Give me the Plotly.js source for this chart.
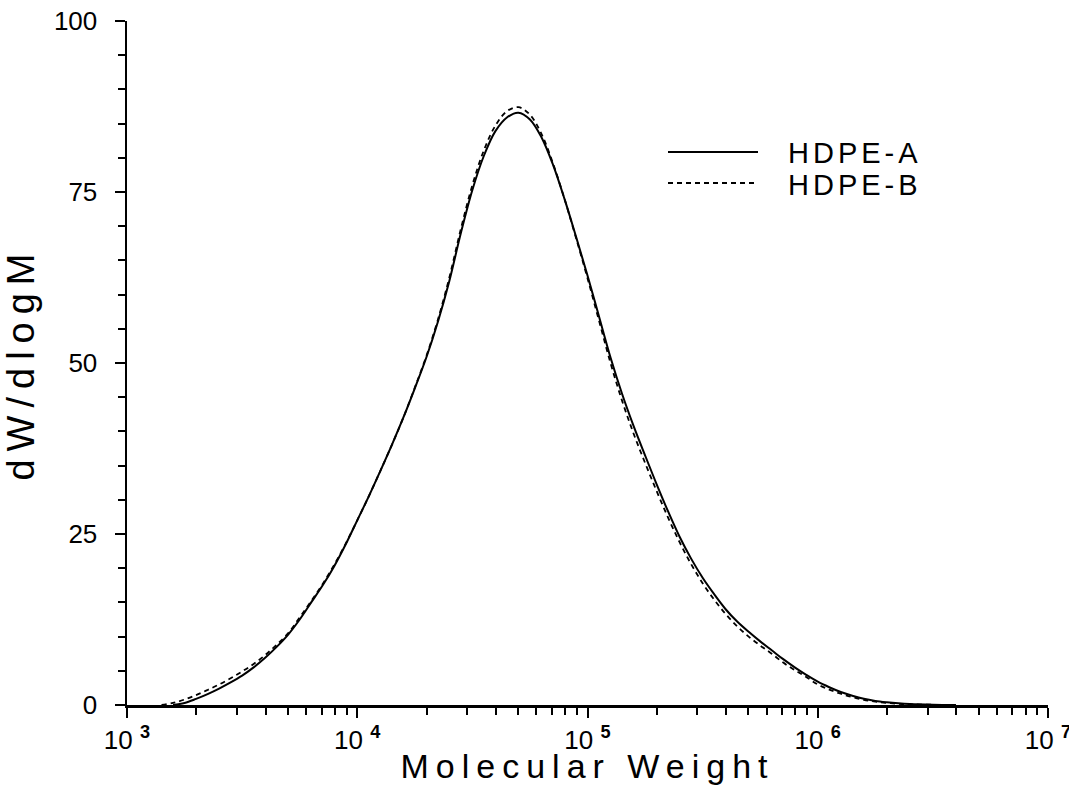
<!DOCTYPE html>
<html>
<head>
<meta charset="utf-8">
<script src="https://cdn.plot.ly/plotly-3.0.1.min.js"></script>
<style>
  html, body { margin: 0; padding: 0; background: #fff; }
  #chart { width: 1069px; height: 785px; }
  .xtitle { letter-spacing: 7px; }
  .ytitle { letter-spacing: 8px; }
  .annotation-text { letter-spacing: 4px; }
</style>
</head>
<body>
<div id="chart"></div>
<script>
// log10(M) sample positions and dW/dlogM values
const logM_A = [3.20, 3.25, 3.30, 3.35, 3.40, 3.45, 3.50, 3.55, 3.60, 3.65, 3.70, 3.75, 3.80, 3.85, 3.90, 3.95, 4.00, 4.05, 4.10, 4.15, 4.20, 4.25, 4.30, 4.35, 4.40, 4.45, 4.50, 4.55, 4.60, 4.65, 4.70, 4.75, 4.80, 4.85, 4.90, 4.95, 5.00, 5.05, 5.10, 5.15, 5.20, 5.25, 5.30, 5.35, 5.40, 5.45, 5.50, 5.55, 5.60, 5.65, 5.70, 5.75, 5.80, 5.85, 5.90, 5.95, 6.00, 6.05, 6.10, 6.15, 6.20, 6.25, 6.30, 6.35, 6.40, 6.50, 6.60];
const hdpeA  = [0, 0.3, 0.9, 1.6, 2.4, 3.3, 4.3, 5.5, 6.9, 8.5, 10.3, 12.5, 15.0, 17.5, 20.3, 23.5, 27.0, 30.5, 34.2, 38.0, 42.0, 46.3, 50.8, 56.0, 62.0, 69.0, 75.3, 80.3, 83.9, 85.9, 86.6, 85.6, 83.0, 79.0, 74.0, 68.5, 62.8, 56.8, 50.8, 45.5, 40.8, 36.5, 32.3, 28.3, 24.6, 21.4, 18.6, 16.2, 14.0, 12.2, 10.7, 9.3, 8.0, 6.7, 5.5, 4.4, 3.4, 2.6, 1.9, 1.35, 0.9, 0.6, 0.4, 0.25, 0.15, 0.05, 0];

const logM_B = [3.15, 3.20, 3.25, 3.30, 3.35, 3.40, 3.45, 3.50, 3.55, 3.60, 3.65, 3.70, 3.75, 3.80, 3.85, 3.90, 3.95, 4.00, 4.05, 4.10, 4.15, 4.20, 4.25, 4.30, 4.35, 4.40, 4.45, 4.50, 4.55, 4.60, 4.65, 4.70, 4.75, 4.80, 4.85, 4.90, 4.95, 5.00, 5.05, 5.10, 5.15, 5.20, 5.25, 5.30, 5.35, 5.40, 5.45, 5.50, 5.55, 5.60, 5.65, 5.70, 5.75, 5.80, 5.85, 5.90, 5.95, 6.00, 6.05, 6.10, 6.15, 6.20, 6.25, 6.30, 6.35, 6.40, 6.50, 6.60];
const hdpeB  = [0, 0.3, 0.8, 1.45, 2.2, 3.0, 3.9, 4.9, 6.0, 7.3, 8.8, 10.5, 12.8, 15.2, 17.7, 20.5, 23.6, 27.0, 30.5, 34.2, 38.0, 42.0, 46.4, 51.0, 56.3, 62.5, 69.6, 76.0, 81.1, 84.7, 86.8, 87.4, 86.3, 83.5, 79.2, 74.0, 68.3, 62.4, 56.2, 50.0, 44.5, 39.7, 35.4, 31.3, 27.4, 23.8, 20.6, 17.8, 15.4, 13.3, 11.5, 10.0, 8.7, 7.5, 6.2, 5.1, 4.1, 3.0, 2.25, 1.65, 1.15, 0.75, 0.5, 0.3, 0.18, 0.1, 0.03, 0];

const seriesNames = ["HDPE-A", "HDPE-B"];
const xTickVals = [1e3, 1e4, 1e5, 1e6, 1e7];
const xTickText = ["10 <sup><b>3</b></sup>", "10 <sup><b>4</b></sup>", "10 <sup><b>5</b></sup>", "10 <sup><b>6</b></sup>", "10 <sup><b>7</b></sup>"];
const yTickVals = [0, 25, 50, 75, 100];

const toM = arr => arr.map(v => Math.pow(10, v));

const xMinor = [];
for (let d = 3; d < 7; d++) for (let k = 2; k <= 9; k++) xMinor.push(k * Math.pow(10, d));

const FONT = "Liberation Sans, Arial, sans-serif";

const traces = [
  { x: toM(logM_A), y: hdpeA, name: seriesNames[0], type: "scatter", mode: "lines",
    line: { color: "#000", width: 2, shape: "spline", smoothing: 1 }, showlegend: false },
  { x: toM(logM_B), y: hdpeB, name: seriesNames[1], type: "scatter", mode: "lines",
    line: { color: "#000", width: 1.8, dash: "5px,4px", shape: "spline", smoothing: 1 }, showlegend: false }
];

const xRange = [3, 7];
const layout = {
  width: 1069, height: 785,
  margin: { l: 127, r: 21, t: 21, b: 80 },
  paper_bgcolor: "#fff", plot_bgcolor: "#fff",
  font: { family: FONT, color: "#000", size: 26 },
  xaxis: {
    type: "log", range: xRange, showgrid: false, zeroline: false,
    showline: true, linecolor: "#000", linewidth: 2.5,
    tickmode: "array", tickvals: xTickVals, ticktext: xTickText,
    ticks: "outside", ticklen: 10, tickwidth: 2, tickcolor: "#000",
    minor: { tickmode: "array", tickvals: xMinor, ticks: "outside", ticklen: 7, tickwidth: 2, tickcolor: "#000", showgrid: false },
    tickfont: { family: FONT, size: 26, color: "#000" },
    ticklabelstandoff: 0,
    ticklabeloverflow: "allow",
    title: { text: "Molecular Weight", font: { family: FONT, size: 34, color: "#000" }, standoff: 0 },
    automargin: false
  },
  xaxis2: {
    type: "log", range: xRange, overlaying: "x", side: "top", showgrid: false, zeroline: false,
    showline: true, linecolor: "#000", linewidth: 2.5,
    tickmode: "array", tickvals: xTickVals, showticklabels: false,
    ticks: "inside", ticklen: 9, tickwidth: 2, tickcolor: "#000",
    minor: { tickmode: "array", tickvals: xMinor, ticks: "inside", ticklen: 7, tickwidth: 2, tickcolor: "#000", showgrid: false },
    automargin: false
  },
  yaxis: {
    range: [0, 100], showgrid: false, zeroline: false,
    showline: true, linecolor: "#000", linewidth: 2.5,
    tickmode: "array", tickvals: yTickVals,
    ticks: "outside", ticklen: 10, tickwidth: 2, tickcolor: "#000",
    minor: { dtick: 5, ticks: "outside", ticklen: 7, tickwidth: 2, tickcolor: "#000", showgrid: false },
    tickfont: { family: FONT, size: 26, color: "#000" },
    ticklabelstandoff: 12,
    title: { text: "dW/dlogM", font: { family: FONT, size: 38, color: "#000" }, standoff: 8 },
    automargin: false
  },
  yaxis2: {
    range: [0, 100], overlaying: "y", side: "right", showgrid: false, zeroline: false,
    showline: true, linecolor: "#000", linewidth: 2.5,
    tickmode: "array", tickvals: yTickVals, showticklabels: false,
    ticks: "inside", ticklen: 9, tickwidth: 2, tickcolor: "#000",
    minor: { dtick: 5, ticks: "inside", ticklen: 7, tickwidth: 2, tickcolor: "#000", showgrid: false },
    automargin: false
  },
  shapes: [
    { type: "line", xref: "paper", yref: "paper", x0: (668-127)/921, x1: (758-127)/921, y0: (705-152)/684, y1: (705-152)/684, line: { color: "#000", width: 2 } },
    { type: "line", xref: "paper", yref: "paper", x0: (668-127)/921, x1: (758-127)/921, y0: (705-183)/684, y1: (705-183)/684, line: { color: "#000", width: 1.8, dash: "5px,4px" } }
  ],
  annotations: [
    { xref: "paper", yref: "paper", x: (786-127)/921, y: (705-153)/684, xanchor: "left", yanchor: "middle", text: seriesNames[0], showarrow: false, font: { family: FONT, size: 29, color: "#000" } },
    { xref: "paper", yref: "paper", x: (786-127)/921, y: (705-185)/684, xanchor: "left", yanchor: "middle", text: seriesNames[1], showarrow: false, font: { family: FONT, size: 29, color: "#000" } }
  ]
};

Plotly.newPlot("chart", traces, layout, { displayModeBar: false, staticPlot: true });
</script>
</body>
</html>
